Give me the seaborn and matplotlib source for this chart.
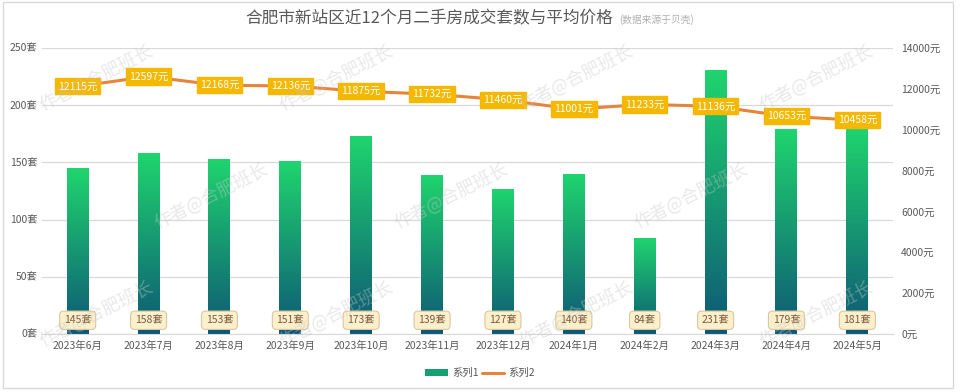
import numpy as np
import pandas as pd
import matplotlib
matplotlib.use("Agg")
import matplotlib.pyplot as plt
import seaborn as sns
from matplotlib.patches import Patch, Rectangle
from matplotlib.lines import Line2D
from matplotlib.colors import LinearSegmentedColormap

months = ['2023年6月', '2023年7月', '2023年8月', '2023年9月', '2023年10月', '2023年11月',
          '2023年12月', '2024年1月', '2024年2月', '2024年3月', '2024年4月', '2024年5月']
deals = [145, 158, 153, 151, 173, 139, 127, 140, 84, 231, 179, 181]
prices = [12115, 12597, 12168, 12136, 11875, 11732, 11460, 11001, 11233, 11136, 10653, 10458]
left_ticks = [0, 50, 100, 150, 200, 250]
right_ticks = [0, 2000, 4000, 6000, 8000, 10000, 12000, 14000]

df = pd.DataFrame({'month': months, 'deals': deals, 'price': prices})
df['pos'] = np.arange(len(df))

sns.set_style('white')
plt.rcParams['font.family'] = ['Noto Sans CJK SC', 'DejaVu Sans']

grey = '#595959'
orange = '#E8833A'
green_top = '#1FD56E'
green_bot = '#0E5775'

fig = plt.figure(figsize=(9.6, 3.92), dpi=100)
ax = fig.add_axes([0.044, 0.148, 0.886, 0.730])

sns.barplot(data=df, x='month', y='deals', width=0.31, ax=ax, color=green_top)

# gradient fill inside each bar
cmap = LinearSegmentedColormap.from_list('g', [green_bot, green_top])
grad = np.linspace(0, 1, 256).reshape(-1, 1)
for p in ax.patches:
    x0, y0 = p.get_x(), p.get_y()
    w, h = p.get_width(), p.get_height()
    p.set_facecolor('none')
    p.set_edgecolor('none')
    im = ax.imshow(grad, cmap=cmap, origin='lower', aspect='auto',
                   extent=[x0, x0 + w, y0, y0 + h], zorder=2)
    im.set_clip_path(p)

ax.set_xlim(-0.5, len(months) - 0.5)
ax.set_ylim(0, 250)
ax.set_yticks(left_ticks)
ax.set_yticklabels([f'{t}套' for t in left_ticks])
ax.yaxis.grid(True, color='#d9d9d9', linewidth=0.9)
ax.set_axisbelow(True)
ax.set_xlabel('')
ax.set_ylabel('')
for s in ['top', 'right', 'left']:
    ax.spines[s].set_visible(False)
ax.spines['bottom'].set_color('#d9d9d9')
ax.tick_params(axis='both', length=0, labelsize=7.5, labelcolor=grey)
ax.tick_params(axis='x', pad=5)

for i, v in enumerate(deals):
    ax.text(i, 12, f'{v}套', ha='center', va='center', fontsize=7.5, color='#7a5a3a', zorder=5,
            bbox=dict(boxstyle='round,pad=0.4', fc='#FCF0CC', ec='#D8C8A0', lw=0.8))

ax2 = ax.twinx()
sns.lineplot(data=df, x='pos', y='price', ax=ax2, color=orange, linewidth=2.2)
ax2.set_ylim(0, 14000)
ax2.set_yticks(right_ticks)
ax2.set_yticklabels([f'{t}元' for t in right_ticks])
ax2.set_xlim(-0.5, len(months) - 0.5)
ax2.set_xlabel('')
ax2.set_ylabel('')
for s in ax2.spines.values():
    s.set_visible(False)
ax2.tick_params(axis='y', length=0, labelsize=7.5, labelcolor=grey, pad=6)

for i, v in enumerate(prices):
    ax2.text(i, v, f'{v}元', ha='center', va='center', fontsize=7.5, color='white', zorder=6,
             bbox=dict(boxstyle='square,pad=0.3', fc='#F5B800', ec='#F5B800'))

fig.text(0.447, 0.953, '合肥市新站区近12个月二手房成交套数与平均价格', ha='center', va='center',
         fontsize=12, color=grey)
fig.text(0.645, 0.951, '(数据来源于贝壳)', ha='left', va='center', fontsize=7, color='#b0b0b0')

handles = [Patch(facecolor='#14A070', edgecolor='none'),
           Line2D([0], [0], color=orange, lw=2.2)]
fig.legend(handles, ['系列1', '系列2'], loc='center', bbox_to_anchor=(0.5, 0.048), ncol=2,
           frameon=False, fontsize=7.5, labelcolor=grey, handlelength=2.2, handleheight=0.6,
           columnspacing=0.3, handletextpad=0.4)

# watermark, kept sparse and inside the frame
for row, fy in enumerate([0.80, 0.50, 0.20]):
    shift = 0.12 if row % 2 else 0.0
    for fx in [0.10, 0.35, 0.60, 0.85]:
        x = fx + shift
        if x > 0.92:
            continue
        fig.text(x, fy, '作者@合肥班长', ha='center', va='center', rotation=27,
                 fontsize=13, color='#c8c8c8', alpha=0.4, zorder=20)

fig.patches.append(Rectangle((0.003, 0.01), 0.990, 0.985, transform=fig.transFigure,
                             fill=False, ec='#d9d9d9', lw=1))

fig.savefig('out.png', dpi=100)
